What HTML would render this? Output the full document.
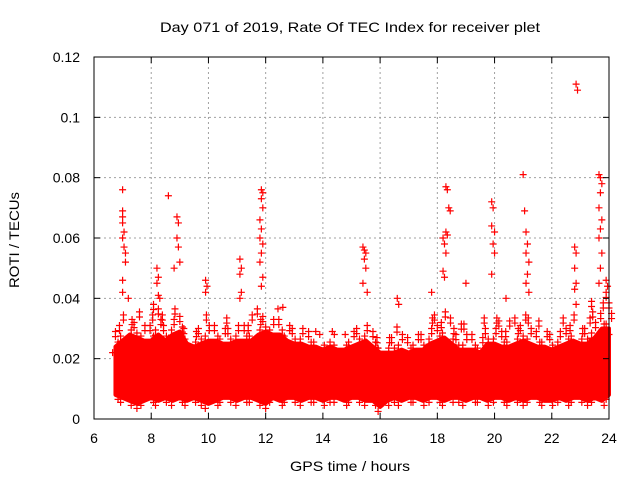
<!DOCTYPE html>
<html><head><meta charset="utf-8"><style>
body{margin:0;background:#fff}
svg{display:block;font-family:"Liberation Sans",sans-serif}
</style></head><body>
<svg id="c" width="640" height="480">
<rect width="640" height="480" fill="#fff"/>
<text x="350" y="32" font-size="14" text-anchor="middle" textLength="380" lengthAdjust="spacingAndGlyphs" fill="#000">Day 071 of 2019, Rate Of TEC Index for receiver plet</text>
<text x="350" y="471" font-size="14" text-anchor="middle" textLength="120" lengthAdjust="spacingAndGlyphs">GPS time / hours</text>
<text x="19" y="240" font-size="14" text-anchor="middle" textLength="96" lengthAdjust="spacingAndGlyphs" transform="rotate(-90 19 240)">ROTI / TECUs</text>
<g id="grid"></g><g id="marks"></g><g id="axes"></g>
</svg>
<script>
const xTicks=[6,8,10,12,14,16,18,20,22,24];
const yTicks=[0,0.02,0.04,0.06,0.08,0.1,0.12];
const yTickLabels=["0","0.02","0.04","0.06","0.08","0.1","0.12"];
const bandStart=6.75, bandStep=0.25;
const bandHi=[0.024,0.026,0.028,0.027,0.026,0.026,0.028,0.026,0.028,0.029,0.025,0.024,0.025,0.026,0.026,0.025,0.025,0.026,0.026,0.026,0.028,0.029,0.028,0.028,0.026,0.025,0.025,0.024,0.024,0.023,0.024,0.023,0.023,0.024,0.025,0.026,0.024,0.022,0.022,0.022,0.023,0.022,0.023,0.023,0.025,0.026,0.027,0.025,0.023,0.023,0.023,0.022,0.025,0.025,0.024,0.024,0.025,0.026,0.025,0.024,0.024,0.023,0.024,0.025,0.026,0.025,0.025,0.027,0.03,0.03];
const bandLo=[0.008,0.007,0.006,0.005,0.006,0.007,0.006,0.007,0.006,0.007,0.006,0.007,0.006,0.005,0.006,0.007,0.007,0.006,0.007,0.007,0.006,0.005,0.007,0.006,0.007,0.007,0.006,0.007,0.007,0.006,0.007,0.007,0.006,0.007,0.007,0.006,0.006,0.004,0.006,0.007,0.006,0.007,0.007,0.006,0.007,0.007,0.006,0.007,0.007,0.006,0.007,0.007,0.006,0.007,0.007,0.006,0.007,0.006,0.007,0.007,0.006,0.006,0.007,0.006,0.007,0.007,0.006,0.007,0.006,0.008];
const bandOuter=[0.032,0.035,0.036,0.037,0.033,0.04,0.038,0.036,0.04,0.036,0.031,0.03,0.032,0.036,0.034,0.031,0.035,0.034,0.033,0.035,0.038,0.036,0.035,0.037,0.032,0.031,0.032,0.03,0.029,0.028,0.029,0.028,0.028,0.031,0.032,0.033,0.03,0.029,0.03,0.031,0.03,0.029,0.03,0.031,0.034,0.036,0.038,0.036,0.032,0.033,0.031,0.03,0.035,0.036,0.034,0.034,0.035,0.038,0.036,0.033,0.032,0.03,0.031,0.034,0.036,0.033,0.035,0.04,0.042,0.044];
const spikeT=[7,7,7,7,7.05,7,7.05,7.1,7.1,7,7,7.2,8.2,8.25,8.2,8.25,8.3,8.6,8.8,8.9,8.95,8.9,8.95,9,9.9,9.95,9.9,11.1,11.15,11.1,11.15,11.1,11.85,11.9,11.85,11.9,11.8,11.85,11.8,11.9,11.85,11.8,11.9,11.85,12.6,15.4,15.45,15.5,15.45,15.5,15.4,15.55,16.6,16.65,17.8,18.3,18.35,18.4,18.45,18.3,18.35,18.2,18.25,18.3,18.2,18.25,19,19.9,19.95,19.9,20,19.95,20,19.9,20.4,21,21.05,21.1,21.15,21.1,21.2,21.15,21.1,21.2,22.85,22.9,22.8,22.85,22.8,22.85,22.8,22.85,23.65,23.7,23.75,23.7,23.65,23.75,23.7,23.65,23.75,23.7,23.65,23.9,23.95];
const spikeV=[0.076,0.069,0.067,0.065,0.062,0.06,0.057,0.055,0.052,0.046,0.042,0.04,0.05,0.047,0.045,0.041,0.04,0.074,0.05,0.067,0.065,0.06,0.057,0.052,0.046,0.044,0.042,0.053,0.05,0.048,0.042,0.04,0.076,0.075,0.073,0.07,0.066,0.063,0.06,0.058,0.055,0.052,0.047,0.044,0.037,0.057,0.056,0.055,0.053,0.05,0.045,0.042,0.04,0.038,0.042,0.077,0.076,0.07,0.069,0.062,0.061,0.06,0.058,0.055,0.049,0.047,0.045,0.072,0.07,0.064,0.062,0.058,0.055,0.048,0.04,0.081,0.069,0.062,0.058,0.055,0.052,0.048,0.045,0.042,0.111,0.109,0.057,0.055,0.05,0.045,0.043,0.038,0.081,0.08,0.078,0.075,0.07,0.066,0.063,0.06,0.055,0.05,0.045,0.046,0.044];

const X0=94,X1=609,Y0=419,Y1=57;
const xs=t=>X0+(t-6)/(24-6)*(X1-X0);
const ys=v=>Y0-v/0.12*(Y0-Y1);
const NS="http://www.w3.org/2000/svg";
function mk(tag,attrs,parent){const e=document.createElementNS(NS,tag);for(const k in attrs)e.setAttribute(k,attrs[k]);parent.appendChild(e);return e;}
const grid=document.getElementById('grid'),marks=document.getElementById('marks'),axes=document.getElementById('axes');

xTicks.forEach((t,i)=>{
  if(i>0&&i<xTicks.length-1){const g=mk('line',{x1:xs(t),x2:xs(t),y1:Y0,y2:Y1,stroke:'#a0a0a0','stroke-dasharray':'2,3'},grid);
  
  }
  mk('line',{x1:xs(t),x2:xs(t),y1:Y0,y2:Y0-6,stroke:'#000'},axes);
  mk('line',{x1:xs(t),x2:xs(t),y1:Y1,y2:Y1+6,stroke:'#000'},axes);
  const l=mk('text',{x:xs(t),y:Y0+24,'font-size':14,'text-anchor':'middle'},axes);l.textContent=t;
  
  
});
yTicks.forEach((v,i)=>{
  if(i>0&&i<yTicks.length-1){const g=mk('line',{x1:X0,x2:X1,y1:ys(v),y2:ys(v),stroke:'#a0a0a0','stroke-dasharray':'2,3'},grid);
  
  }
  mk('line',{x1:X0,x2:X0+6,y1:ys(v),y2:ys(v),stroke:'#000'},axes);
  mk('line',{x1:X1,x2:X1-6,y1:ys(v),y2:ys(v),stroke:'#000'},axes);
  const l=mk('text',{x:X0-14,y:ys(v)+5,'font-size':14,'text-anchor':'end'},axes);l.textContent=yTickLabels[i];
  
  
});
const border=mk('rect',{x:X0,y:Y1,width:X1-X0,height:Y0-Y1,fill:'none',stroke:'#000'},axes);



const n=Math.min(bandHi.length,bandLo.length,bandOuter.length);
let pts=[];
for(let i=0;i<n;i++)pts.push(xs(bandStart+i*bandStep)+','+ys(bandHi[i]));
for(let i=n-1;i>=0;i--)pts.push(xs(bandStart+i*bandStep)+','+ys(bandLo[i]));
const band=mk('polygon',{points:pts.join(' '),fill:'#f00',stroke:'#f00','stroke-width':4,'stroke-linejoin':'round'},marks);



function plus(t,v,name){
  const x=xs(t),y=ys(v);
  const p=mk('path',{d:`M${x-3.5},${y}h7M${x},${y-3.5}v7`,stroke:'#f00','stroke-width':1.2,fill:'none'},marks);
  
  
}
// fixed layout offsets (hours) to spread markers within a bin
const jit=[-0.1,0.03,-0.04,0.09,-0.07,0.05,0.0,-0.11,0.08];
for(let i=0;i<n;i++){
  const t=bandStart+i*bandStep;
  let k=i%jit.length;
  for(let v=bandHi[i]-0.002;v<=bandOuter[i];v+=0.0035){
    plus(t+jit[k%jit.length],v,'roti-point');k+=2;
    if(v<bandOuter[i]-0.004){plus(t+jit[(k+1)%jit.length],v+0.0018,'roti-point');k+=1;}
  }
  plus(t+jit[(i+3)%jit.length],bandLo[i]-0.0015,'roti-point');
}
for(let i=0;i<Math.min(spikeT.length,spikeV.length);i++)plus(spikeT[i],spikeV[i],'roti-spike-point');
</script>
</body></html>
